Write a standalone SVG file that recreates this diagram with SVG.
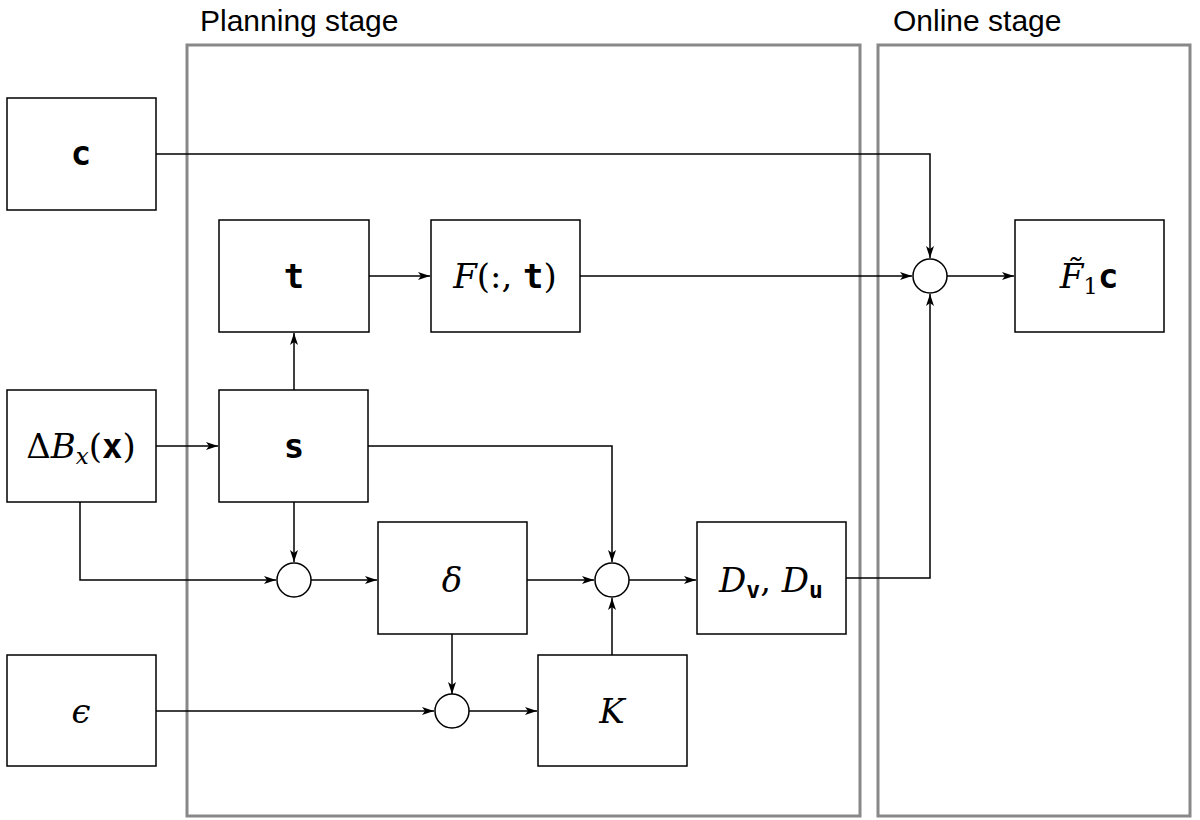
<svg xmlns="http://www.w3.org/2000/svg" width="1200" height="820" viewBox="0 0 1200 820">
<style>
.stage{fill:none;stroke:#888;stroke-width:3}
.box{fill:#fff;stroke:#000;stroke-width:1.5}
.sum{fill:#fff;stroke:#000;stroke-width:1.5}
.cn{fill:none;stroke:#000;stroke-width:1.5}
.title{font-family:"Liberation Sans",Arial,sans-serif;font-size:30px;fill:#000}
.m{font-family:"DejaVu Serif","Liberation Serif",serif;font-size:34px;fill:#000;text-anchor:middle}
.i{font-style:italic}
.b{font-family:"DejaVu Sans Mono","Liberation Mono",monospace;font-weight:bold}
</style>
<defs>
<marker id="ah" markerWidth="12" markerHeight="10" viewBox="0 0 12 10" refX="12" refY="5" orient="auto" markerUnits="userSpaceOnUse">
<path d="M0,1 L12,5 L0,9 L3,5 Z" fill="#000"/>
</marker>
</defs>
<rect width="1200" height="820" fill="#fff"/>
<g id="stages">
<rect class="stage" x="187" y="45" width="673" height="771"/>
<rect class="stage" x="878" y="45" width="312" height="771"/>
<text class="title" x="200" y="31">Planning stage</text>
<text class="title" x="893" y="31">Online stage</text>
</g>
<g id="connectors">
<path class="cn" d="M156,154 H930 V258" marker-end="url(#ah)"/>
<path class="cn" d="M369,276 H430" marker-end="url(#ah)"/>
<path class="cn" d="M580,276 H912" marker-end="url(#ah)"/>
<path class="cn" d="M947,276 H1014" marker-end="url(#ah)"/>
<path class="cn" d="M294,390 V333" marker-end="url(#ah)"/>
<path class="cn" d="M156,446 H218" marker-end="url(#ah)"/>
<path class="cn" d="M368,446 H612 V562" marker-end="url(#ah)"/>
<path class="cn" d="M294,502 V562" marker-end="url(#ah)"/>
<path class="cn" d="M80,502 V580 H276" marker-end="url(#ah)"/>
<path class="cn" d="M311,580 H377" marker-end="url(#ah)"/>
<path class="cn" d="M527,580 H594" marker-end="url(#ah)"/>
<path class="cn" d="M629,580 H696" marker-end="url(#ah)"/>
<path class="cn" d="M612,655 V598" marker-end="url(#ah)"/>
<path class="cn" d="M846,578 H930 V294" marker-end="url(#ah)"/>
<path class="cn" d="M452,634 V694" marker-end="url(#ah)"/>
<path class="cn" d="M156,711 H434" marker-end="url(#ah)"/>
<path class="cn" d="M469,711 H537" marker-end="url(#ah)"/>
</g>
<g id="node-c"><rect class="box" x="7" y="98" width="149" height="112"/><text class="m b" x="81" y="165">c</text></g>
<g id="node-t"><rect class="box" x="219" y="220" width="150" height="112"/><text class="m b" x="294" y="288">t</text></g>
<g id="node-F"><rect class="box" x="431" y="220" width="149" height="112"/><text class="m" x="505" y="288"><tspan class="i">F</tspan>(:, <tspan class="b">t</tspan>)</text></g>
<g id="node-F1c"><rect class="box" x="1015" y="220" width="149" height="112"/><text class="m" x="1089" y="288"><tspan class="i">F̃</tspan><tspan font-size="23" dy="6">1</tspan><tspan class="b" dy="-6">c</tspan></text></g>
<g id="node-dB"><rect class="box" x="7" y="390" width="149" height="112"/><text class="m" x="81" y="458">Δ<tspan class="i">B</tspan><tspan class="i" font-size="23" dy="6">x</tspan><tspan dy="-6">(</tspan><tspan class="b">x</tspan>)</text></g>
<g id="node-s"><rect class="box" x="219" y="390" width="149" height="112"/><text class="m b" x="294" y="458">s</text></g>
<g id="node-delta"><rect class="box" x="378" y="522" width="149" height="112"/><text class="m i" x="452" y="592">δ</text></g>
<g id="node-D"><rect class="box" x="697" y="522" width="149" height="112"/><text class="m" x="771" y="592"><tspan class="i">D</tspan><tspan class="b" font-size="23" dy="6">v</tspan><tspan dy="-6">, </tspan><tspan class="i">D</tspan><tspan class="b" font-size="23" dy="6">u</tspan></text></g>
<g id="node-eps"><rect class="box" x="7" y="655" width="149" height="111"/><text class="m i" x="81" y="723">ϵ</text></g>
<g id="node-K"><rect class="box" x="538" y="655" width="149" height="111"/><text class="m i" x="612" y="723">K</text></g>
<g id="sum-online"><circle class="sum" cx="930" cy="276" r="17"/></g>
<g id="sum-left"><circle class="sum" cx="294" cy="580" r="17"/></g>
<g id="sum-mid"><circle class="sum" cx="612" cy="580" r="17"/></g>
<g id="sum-bottom"><circle class="sum" cx="452" cy="711" r="17"/></g>
</svg>
